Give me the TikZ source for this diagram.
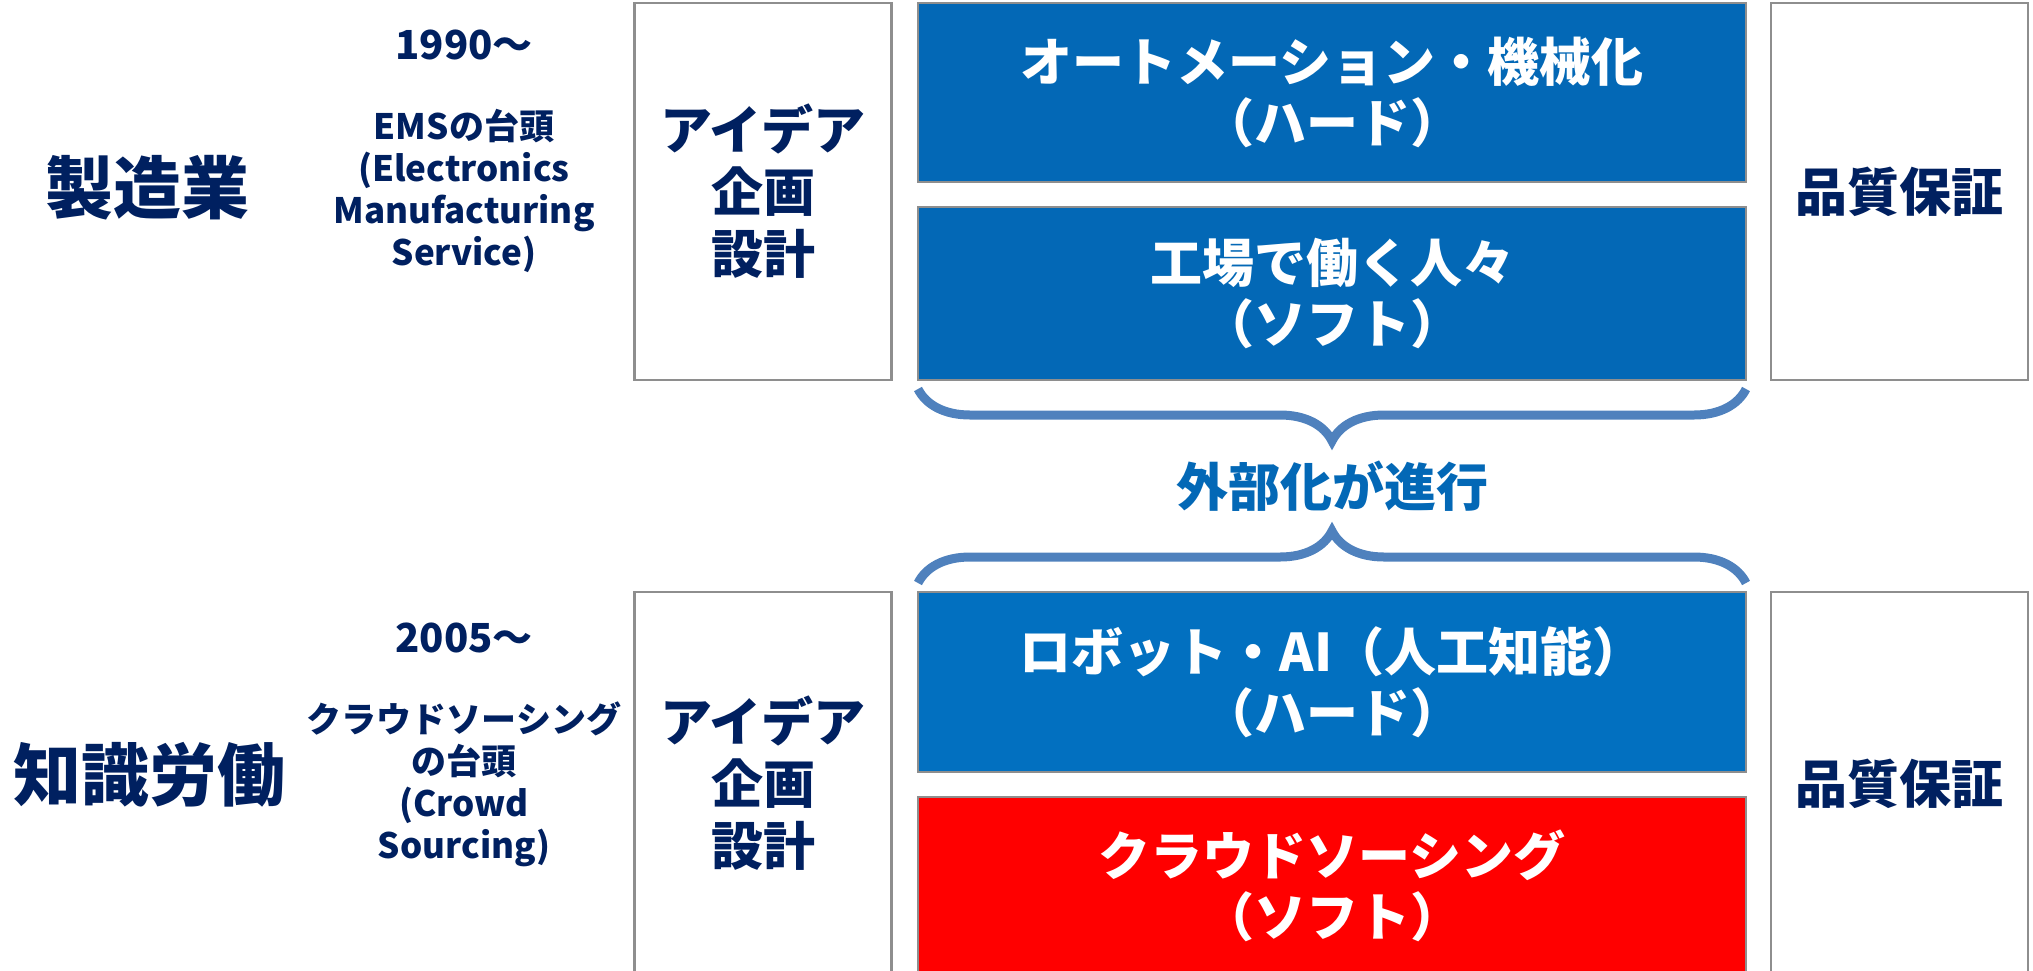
\documentclass[tikz,border=0pt]{standalone}
\usepackage{fontspec}
\setmainfont{Noto Sans CJK JP}
\usepackage{tikz}
\usetikzlibrary{decorations.pathreplacing}
\definecolor{navy}{HTML}{002060}
\definecolor{hardblue}{HTML}{0368B6}
\definecolor{aiblue}{HTML}{0270C0}
\definecolor{crowdred}{HTML}{FF0000}
\definecolor{bracecol}{HTML}{4F81BD}
\definecolor{framegray}{HTML}{8E8E8E}
\newcommand{\fsz}[2]{\fontsize{#1}{#2}\selectfont}

\begin{document}
\begin{tikzpicture}[x=1pt,y=-1pt,
  frame/.style={draw=framegray,line width=2.5pt,inner sep=0pt,outer sep=0pt,align=center},
  side box/.style={frame,fill=white,text=navy,font=\bfseries\fsz{52}{62},minimum width=257pt},
  work box/.style={frame,text=white,font=\bfseries\fsz{52}{61},minimum width=828pt},
  era text/.style={text=navy,font=\bfseries\fsz{35}{42},align=center},
  year text/.style={text=navy,font=\bfseries\fsz{40}{48}},
  field text/.style={text=navy,font=\bfseries\fsz{68}{80}},
  out brace/.style={draw=bracecol,line width=9pt,decorate,decoration={brace,amplitude=52pt}}]
\clip (0,0) rectangle (2033,970);

% manufacturing row
\node[field text] (mfg) at (147,188) {製造業};
\node[year text] (y1990) at (464,45) {1990～};
\node[era text] (ems) at (464,191) {EMSの台頭\\(Electronics\\Manufacturing\\Service)};
\node[side box,minimum height=377pt] (idea1) at (763,191.5) {アイデア\\企画\\設計};
\node[work box,fill=hardblue,minimum height=179pt] (auto) at (1332,92.5) {オートメーション・機械化\\（ハード）};
\node[work box,fill=hardblue,minimum height=173pt] (people) at (1332,293.5) {工場で働く人々\\（ソフト）};
\node[side box,minimum height=377pt] (qa1) at (1899.5,191.5) {品質保証};

% knowledge work row
\node[field text] (know) at (149,775) {知識労働};
\node[year text] (y2005) at (464,638) {2005～};
\node[era text] (crowd) at (464,784) {クラウドソーシング\\の台頭\\(Crowd\\Sourcing)};
\node[side box,minimum height=383pt] (idea2) at (763,783.5) {アイデア\\企画\\設計};
\node[work box,fill=aiblue,minimum height=180pt] (robot) at (1332,682) {ロボット・AI（人工知能）\\（ハード）};
\node[work box,fill=crowdred,minimum height=178pt] (cs) at (1332,886) {クラウドソーシング\\（ソフト）};
\node[side box,minimum height=383pt] (qa2) at (1899.5,783.5) {品質保証};

% braces
\draw[out brace] ([yshift=-9pt]people.south east) -- ([yshift=-9pt]people.south west);
\draw[out brace] ([yshift=9pt]robot.north west) -- ([yshift=9pt]robot.north east);
\node[text=hardblue,font=\bfseries\fsz{52}{62}] (outsrc) at (1332,486) {外部化が進行};
\end{tikzpicture}
\end{document}
